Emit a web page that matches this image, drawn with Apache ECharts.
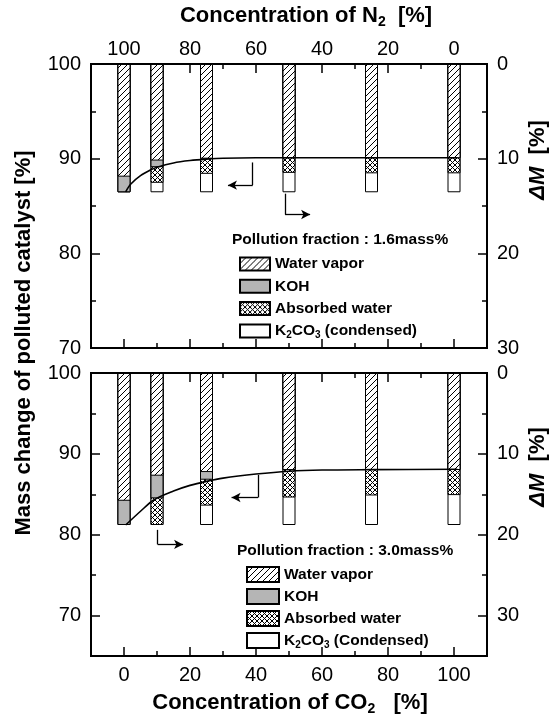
<!DOCTYPE html>
<html>
<head>
<meta charset="utf-8">
<script src="https://cdn.jsdelivr.net/npm/echarts@6/dist/echarts.min.js"></script>
<style>
  html, body { margin: 0; padding: 0; background: #fff; }
  #chart { width: 558px; height: 719px; }
</style>
</head>
<body>
<div id="chart"></div>
<script>
// CO2 concentrations of the bars [%]
const co2 = [0, 10, 25, 50, 75, 100];

// upper panel (1.6 mass%), segment heights in dM [%] from the top
const topWater = [11.9, 10.2, 10.0, 9.95, 9.95, 9.95];
const topKOH = [1.65, 0.7, 0, 0, 0, 0];
const topAbsorbed = [0, 1.65, 1.6, 1.55, 1.6, 1.6];
const topK2CO3 = [0, 1.0, 1.95, 2.05, 2.0, 2.0];

// lower panel (3.0 mass%)
const botWater = [15.8, 12.7, 12.25, 12.0, 12.0, 12.0];
const botKOH = [3.0, 2.8, 0.95, 0, 0, 0];
const botAbsorbed = [0, 3.3, 3.2, 3.4, 3.15, 3.1];
const botK2CO3 = [0, 0, 2.4, 3.4, 3.65, 3.7];

// mass change curves [CO2 %, mass %]
const topCurve = [[0.5, 86.5], [2, 87.3], [5, 88.2], [8, 88.8], [10, 89.1], [15, 89.55], [20, 89.8],
  [25, 89.95], [30, 90.05], [40, 90.1], [60, 90.1], [80, 90.1], [101, 90.1]];
const botCurve = [[0.5, 81.2], [5, 82.9], [9, 84.3], [15, 85.4], [20, 86.1], [25, 86.6], [30, 87.0],
  [40, 87.5], [50, 87.85], [60, 88.0], [75, 88.05], [101, 88.1]];

// arrows (CO2 %, mass %)
const topArrowLeft = [[39, 89.6], [39, 87.2], [31.5, 87.2]];
const topArrowRight = [[48.8, 86.3], [48.8, 84.1], [56.4, 84.1]];
const botArrowLeft = [[40.6, 87.4], [40.6, 84.6], [32.6, 84.6]];
const botArrowRight = [[10.2, 80.6], [10.2, 78.8], [17.9, 78.8]];

// ticks
const xMajor = [0, 20, 40, 60, 80, 100];
const xMinor = [10, 30, 50, 70, 90];
const massMajor = [70, 80, 90, 100];
const massMinor = [75, 85, 95];
const dMMajor = [0, 10, 20, 30];
const dMMinor = [5, 15, 25];

const FONT = 'Liberation Sans';

function pattern(cross, size) {
  const c = document.createElement('canvas');
  c.width = c.height = size;
  const g = c.getContext('2d');
  g.fillStyle = '#fff';
  g.fillRect(0, 0, size, size);
  g.strokeStyle = '#000';
  g.lineWidth = 1;
  g.beginPath();
  for (let k = -1; k <= 1; k++) {
    g.moveTo(k * size, size);
    g.lineTo(k * size + size, 0);
  }
  if (cross) {
    for (let k = -1; k <= 1; k++) {
      g.moveTo(k * size, 0);
      g.lineTo(k * size + size, size);
    }
  }
  g.stroke();
  return { image: c, repeat: 'repeat' };
}
const hatchFill = pattern(false, 6);
const crossFill = pattern(true, 5);

const chart = echarts.init(document.getElementById('chart'));

function xAx(g, pos, ticks, len, label) {
  return {
    type: 'value', gridIndex: g, position: pos, min: -10, max: 110,
    axisLine: { show: true, onZero: false, lineStyle: { color: '#000', width: 2 } },
    axisTick: { show: true, inside: true, length: len, customValues: ticks, lineStyle: { color: '#000', width: 1.5 } },
    axisLabel: label ? Object.assign({ show: true, customValues: ticks, fontSize: 20, color: '#000', fontFamily: FONT }, label) : { show: false },
    splitLine: { show: false }
  };
}
function yAx(g, pos, min, max, inverse, ticks, len, label) {
  return {
    type: 'value', gridIndex: g, position: pos, min: min, max: max, inverse: inverse,
    axisLine: { show: true, onZero: false, lineStyle: { color: '#000', width: 2 } },
    axisTick: { show: true, inside: true, length: len, customValues: ticks, lineStyle: { color: '#000', width: 1.5 } },
    axisLabel: label ? { show: true, customValues: ticks, fontSize: 20, color: '#000', fontFamily: FONT, margin: 10 } : { show: false },
    splitLine: { show: false }
  };
}

const xAxis = [];
const yAxis = [];
[0, 1].forEach(g => {
  xAxis.push(xAx(g, 'bottom', xMajor, 9, g === 1 ? { margin: 9 } : null));
  xAxis.push(xAx(g, 'bottom', xMinor, 5, null));
  xAxis.push(xAx(g, 'top', xMajor, 9, g === 0 ? { margin: 5, formatter: v => String(100 - v) } : null));
  xAxis.push(xAx(g, 'top', xMinor, 5, null));
  yAxis.push(yAx(g, 'left', g === 0 ? 70 : 65, 100, false, massMajor, 9, true));
  yAxis.push(yAx(g, 'left', g === 0 ? 70 : 65, 100, false, massMinor, 5, false));
  yAxis.push(yAx(g, 'right', 0, g === 0 ? 30 : 35, true, dMMajor, 9, true));
  yAxis.push(yAx(g, 'right', 0, g === 0 ? 30 : 35, true, dMMinor, 5, false));
});

// stacked segments hanging from dM = 0: each bar is drawn from 0 to its
// cumulative depth, deeper ones underneath
function panelBars(g, names, arrs, fills) {
  let run = co2.map(() => 0);
  const out = [];
  arrs.forEach((arr, k) => {
    run = run.map((v, i) => v + arr[i]);
    out.push({
      type: 'bar', name: names[k], xAxisIndex: g * 4, yAxisIndex: g * 4 + 2,
      barWidth: 13, barGap: '-100%',
      data: co2.map((x, i) => [x, run[i]]),
      itemStyle: { color: fills[k], borderColor: '#000', borderWidth: 1 },
      z: 4 - k
    });
  });
  return out;
}

function arrowLines(pts) {
  return [
    [{ coord: pts[0], symbol: 'none' }, { coord: pts[1], symbol: 'none' }],
    [{ coord: pts[1], symbol: 'none' }, { coord: pts[2], symbol: 'arrow' }]
  ];
}

function curve(g, pts, arrows) {
  return {
    type: 'line', xAxisIndex: g * 4, yAxisIndex: g * 4, data: pts,
    smooth: 0.3, symbol: 'none', lineStyle: { color: '#000', width: 1.6 }, z: 6,
    markLine: {
      silent: true, symbolSize: [7, 9], label: { show: false },
      lineStyle: { color: '#000', width: 1.3, type: 'solid' },
      data: arrows.reduce((a, p) => a.concat(arrowLines(p)), [])
    }
  };
}

const legendText = {
  fontSize: 15.5, fontWeight: 'bold', color: '#000', fontFamily: FONT,
  rich: {
    n: { fontSize: 15.5, fontWeight: 'bold', fontFamily: FONT, color: '#000' },
    s: { fontSize: 10, fontWeight: 'bold', fontFamily: FONT, color: '#000', padding: [9, 0, 0, 0] }
  }
};
function legendFmt(name) {
  if (name.indexOf('K2CO3') === 0) {
    return '{n|K}{s|2}{n|CO}{s|3}{n|' + name.slice(5) + '}';
  }
  return name;
}

const fills = [hatchFill, '#b5b5b5', crossFill, '#fff'];
const titleRich = {
  b: { font: 'bold 22px ' + FONT, fill: '#000' },
  s: { font: 'bold 14px ' + FONT, fill: '#000', padding: [13, 0, 0, 0] }
};
const dMRich = {
  i: { font: 'italic bold 22px ' + FONT, fill: '#000' },
  b: { font: 'bold 22px ' + FONT, fill: '#000' }
};

chart.setOption({
  animation: false,
  grid: [
    { left: 91, top: 64, width: 396, height: 284 },
    { left: 91, top: 373, width: 396, height: 283 }
  ],
  xAxis: xAxis,
  yAxis: yAxis,
  legend: [
    {
      orient: 'vertical', left: 234, top: 251, itemWidth: 30, itemHeight: 13, itemGap: 6.3,
      selectedMode: false, icon: 'rect', textStyle: legendText, formatter: legendFmt,
      data: ['Water vapor', 'KOH', 'Absorbed water', 'K2CO3 (condensed)']
    },
    {
      orient: 'vertical', left: 241, top: 561, itemWidth: 32, itemHeight: 15, itemGap: 5,
      selectedMode: false, icon: 'rect', textStyle: legendText, formatter: legendFmt,
      data: ['Water vapor', 'KOH', 'Absorbed water', 'K2CO3 (Condensed)']
    }
  ],
  graphic: [
    {
      type: 'text', x: 306, y: 16,
      style: { text: '{b|Concentration of N}{s|2}{b|  [%]}', align: 'center', verticalAlign: 'middle', rich: titleRich }
    },
    {
      type: 'text', x: 290, y: 703,
      style: { text: '{b|Concentration of CO}{s|2}{b|   [%]}', align: 'center', verticalAlign: 'middle', rich: titleRich }
    },
    {
      type: 'text', x: 24, y: 343, rotation: Math.PI / 2,
      style: { text: 'Mass change of polluted catalyst [%]', font: 'bold 22px ' + FONT, fill: '#000', align: 'center', verticalAlign: 'middle' }
    },
    {
      type: 'text', x: 538, y: 160, rotation: Math.PI / 2,
      style: { text: '{i|ΔM}{b|  [%]}', align: 'center', verticalAlign: 'middle', rich: dMRich }
    },
    {
      type: 'text', x: 538, y: 467, rotation: Math.PI / 2,
      style: { text: '{i|ΔM}{b|  [%]}', align: 'center', verticalAlign: 'middle', rich: dMRich }
    },
    {
      type: 'text', x: 232, y: 240,
      style: { text: 'Pollution fraction : 1.6mass%', font: 'bold 15.5px ' + FONT, fill: '#000', verticalAlign: 'middle' }
    },
    {
      type: 'text', x: 237, y: 551,
      style: { text: 'Pollution fraction : 3.0mass%', font: 'bold 15.5px ' + FONT, fill: '#000', verticalAlign: 'middle' }
    }
  ],
  series: [].concat(
    panelBars(0, ['Water vapor', 'KOH', 'Absorbed water', 'K2CO3 (condensed)'],
      [topWater, topKOH, topAbsorbed, topK2CO3], fills),
    panelBars(1, ['Water vapor', 'KOH', 'Absorbed water', 'K2CO3 (Condensed)'],
      [botWater, botKOH, botAbsorbed, botK2CO3], fills),
    [curve(0, topCurve, [topArrowLeft, topArrowRight]),
     curve(1, botCurve, [botArrowLeft, botArrowRight])]
  )
});
</script>
</body>
</html>
